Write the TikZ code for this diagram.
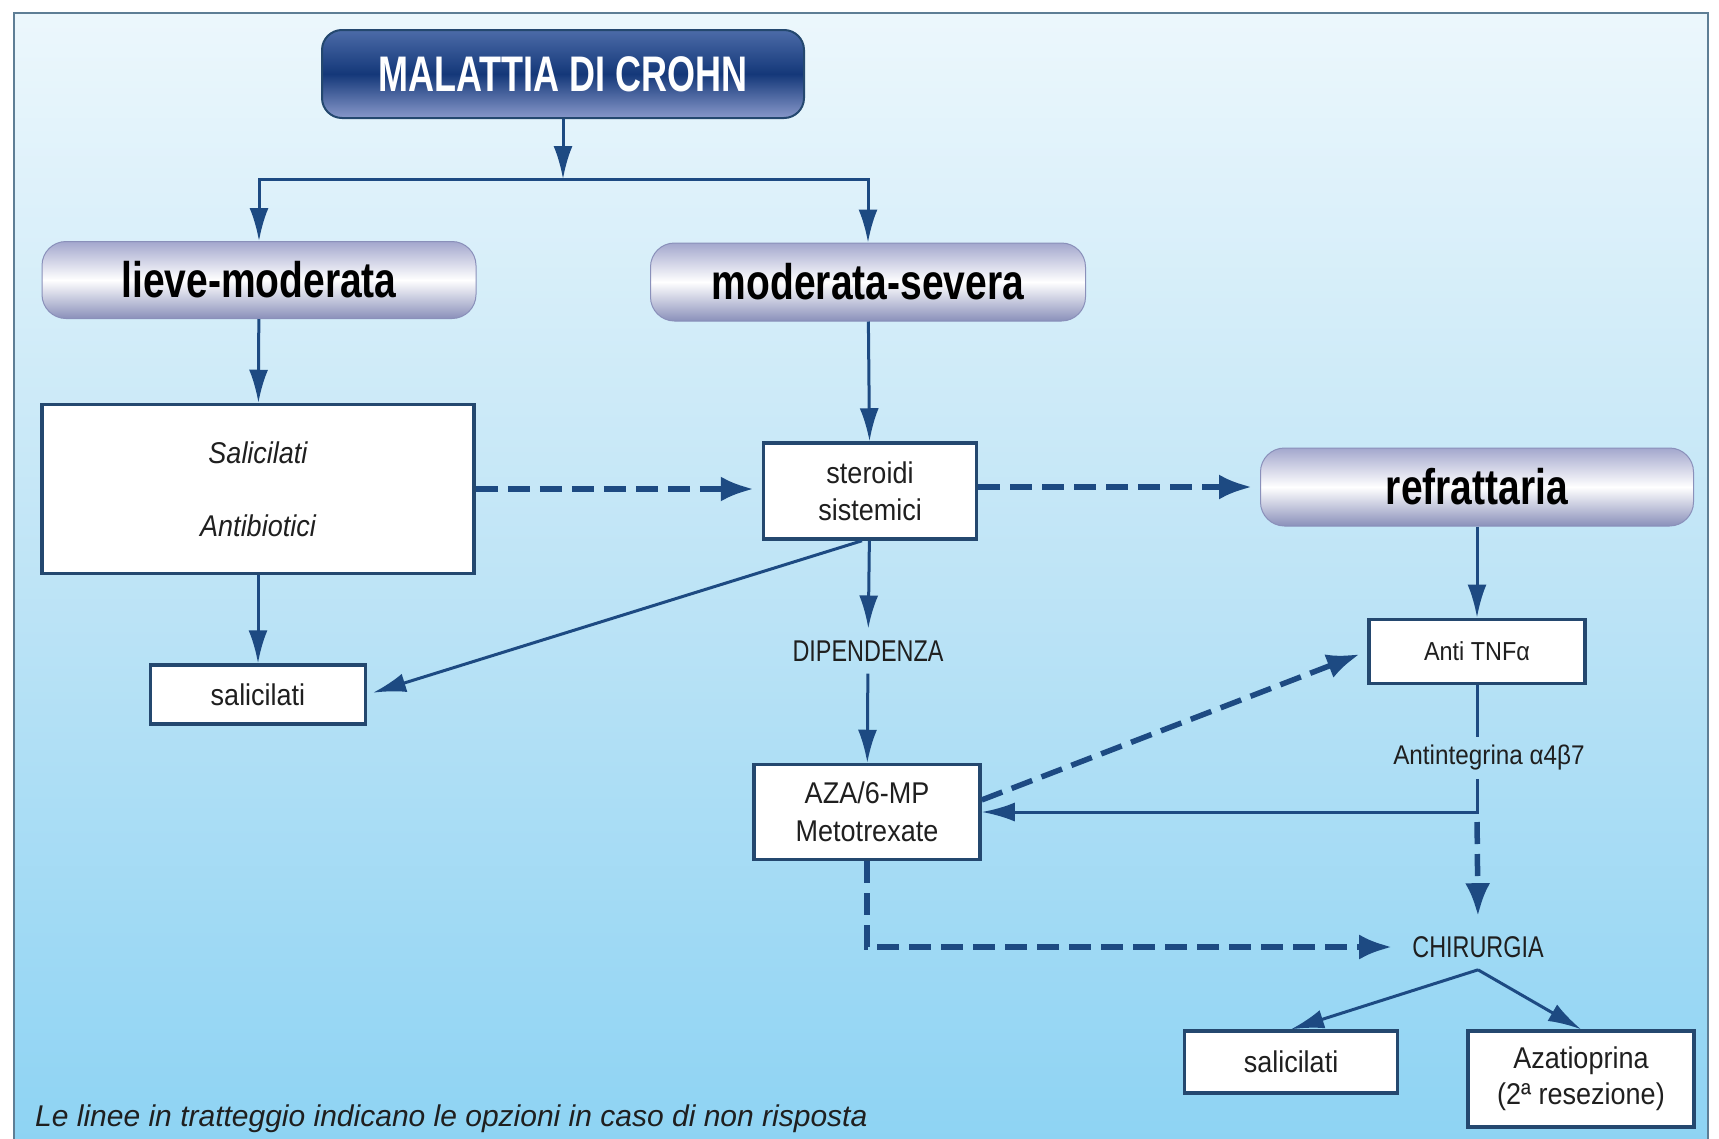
\documentclass[tikz,border=0pt]{standalone}
\usepackage{fontspec}
\setmainfont{Liberation Sans}
\newfontfamily\strettissimo[FakeStretch=0.72]{Liberation Sans}
\newfontfamily\stretto[FakeStretch=0.78]{Liberation Sans}
\newfontfamily\medio[FakeStretch=0.9]{Liberation Sans}
\usetikzlibrary{arrows.meta,positioning}

\definecolor{linea}{HTML}{1D4A82}
\definecolor{bordo}{HTML}{24486F}
\definecolor{testo}{HTML}{1F1F1F}
\definecolor{sfondoA}{HTML}{ECF7FC}
\definecolor{sfondoB}{HTML}{BEE4F6}
\definecolor{sfondoC}{HTML}{8DD3F3}
\definecolor{cornice}{HTML}{5E7E95}
\definecolor{pillA}{HTML}{A3A7CD}
\definecolor{pillB}{HTML}{8A90BA}
\definecolor{titA}{HTML}{4C6BA8}
\definecolor{titB}{HTML}{143879}
\definecolor{titC}{HTML}{8898CA}

\begin{document}
\begin{tikzpicture}[x=1pt,y=-1pt,
    punta/.style={-{Latex[length=33pt,width=19pt]}},
    puntalarga/.style={-{Latex[length=33pt,width=25pt]}},
    box/.style={draw=bordo,fill=white,line width=3.5pt,inner sep=0pt,align=center,
                text=testo,font=\medio\fontsize{30}{37}\selectfont},
    pill/.style={rounded corners=24pt,top color=pillA,bottom color=pillB,middle color=white,
                 draw=pillB,line width=1pt,inner sep=0pt,text=black,
                 font=\stretto\bfseries\fontsize{50}{60}\selectfont},
    etichetta/.style={inner sep=12pt,text=testo,font=\stretto\fontsize{30}{36}\selectfont},
    freccia/.style={draw=linea,line width=3pt},
    tratto/.style={draw=linea,line width=5.5pt,dash pattern=on 22pt off 10pt,shorten >=8pt}]

  \useasboundingbox (0,0) rectangle (1719,1138);
  \shade[top color=sfondoA,bottom color=sfondoC,middle color=sfondoB] (14,13) rectangle (1708,1150);
  \draw[cornice,line width=2pt] (14,1150) -- (14,13) -- (1708,13) -- (1708,1150);

  \node[rounded corners=20pt,top color=titA,bottom color=titC,middle color=titB,draw=bordo,
        line width=2pt,minimum width=482pt,minimum height=88pt,text=white,
        font=\strettissimo\bfseries\fontsize{50}{60}\selectfont] (crohn) at (563,74) {MALATTIA DI CROHN};
  \node[pill,minimum width=434pt,minimum height=77pt] (lieve) at (259,280) {lieve-moderata};
  \node[pill,minimum width=435pt,minimum height=78pt] (severa) at (868,282) {moderata-severa};
  \node[pill,minimum width=433pt,minimum height=78pt] (refr) at (1477,487) {refrattaria};

  \node[box,minimum width=432pt,minimum height=169pt,font=\medio\itshape\fontsize{30}{73}\selectfont]
    (sal) at (258,489) {Salicilati\\Antibiotici};
  \node[box,minimum width=215pt,minimum height=59pt] (salA) [below=88pt of sal] {salicilati};
  \node[box,minimum width=213pt,minimum height=96pt] (ster) at (870,491) {steroidi\\sistemici};
  \node[etichetta] (dip) at (868,651) {DIPENDENZA};
  \node[box,minimum width=226pt,minimum height=95pt,font=\medio\fontsize{30}{38}\selectfont]
    (aza) at (867,812) {AZA/6-MP\\Metotrexate};
  \node[box,minimum width=216pt,minimum height=64pt,font=\medio\fontsize{26}{32}\selectfont]
    (anti) [below=91pt of refr] {Anti TNFα};
  \node[inner sep=8pt,text=testo,font=\medio\fontsize{27}{32}\selectfont] (integ) at (1489,758)
    {Antintegrina α4β7};
  \node[etichetta] (chir) at (1478,947) {CHIRURGIA};
  \node[box,minimum width=213pt,minimum height=62pt] (salB) at (1291,1062) {salicilati};
  \node[box,minimum width=226pt,minimum height=96pt,font=\medio\fontsize{30}{36}\selectfont]
    (azt) at (1581,1079) {Azatioprina\\(2ª resezione)};

  \node[anchor=west,inner sep=0pt,text=testo,font=\itshape\fontsize{30}{36}\selectfont] (nota) at (35,1119)
    {Le linee in tratteggio indicano le opzioni in caso di non risposta};

  \coordinate (bivio) at (563,179);
  \coordinate (k) at (anti.south |- aza.east);

  \draw[freccia,punta] (crohn) -- (bivio);
  \draw[freccia,punta] (bivio) -| (lieve);
  \draw[freccia,punta] (bivio) -| (severa);
  \draw[freccia,punta] (lieve) -- (sal);
  \draw[freccia,punta] (sal) -- (salA);
  \draw[freccia,punta] (severa) -- (ster);
  \draw[freccia,punta,shorten >=6pt] ([xshift=-8pt]ster.south) -- (salA.east);
  \draw[freccia,punta] (ster) -- (dip);
  \draw[freccia,punta] (dip) -- (aza);
  \draw[freccia,punta] (refr) -- (anti);
  \draw[freccia] (anti.south) -- (anti.south |- integ.north);
  \draw[freccia,punta] (anti.south |- integ.south) -- (k) -- (aza.east);
  \draw[freccia,punta] (chir.south) -- (salB.north);
  \draw[freccia,punta] (chir.south) -- (azt.north);

  \draw[tratto,puntalarga] (sal.east) -- (sal.east -| ster.west);
  \draw[tratto,puntalarga] (ster.east |- refr) -- (refr.west);
  \draw[tratto,puntalarga] (aza.6) -- (anti.west);
  \draw[tratto,puntalarga,shorten <=10pt] (k) -- (chir.north);
  \draw[tratto,puntalarga] (aza) |- (chir);
\end{tikzpicture}
\end{document}
